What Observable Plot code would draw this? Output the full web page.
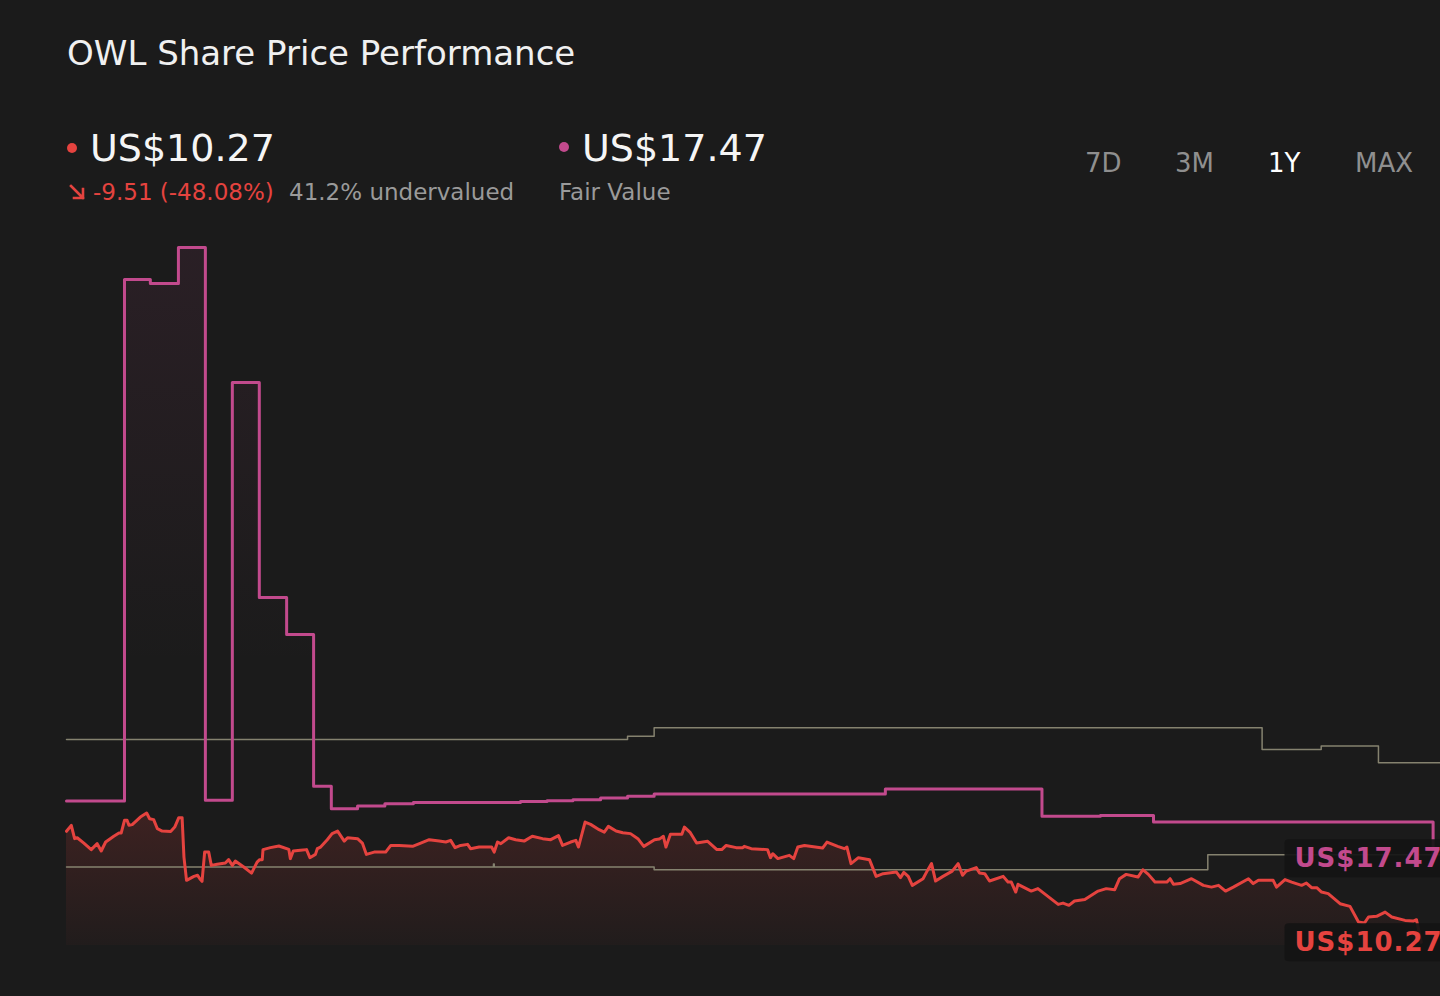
<!DOCTYPE html>
<html>
<head>
<meta charset="utf-8">
<script src="https://cdn.jsdelivr.net/npm/d3@7"></script>
<script src="https://cdn.jsdelivr.net/npm/@observablehq/plot@0.6"></script>
<style>
  html, body { margin: 0; padding: 0; background: #1b1b1b; overflow: hidden; }
  #page { position: relative; width: 1440px; height: 996px; font-family: "DejaVu Sans", sans-serif; }
  #header { position: relative; width: 1440px; height: 230px; }
  .t { position: absolute; line-height: 1; white-space: nowrap; }
  .dot { position: absolute; width: 10px; height: 10px; border-radius: 50%; }
</style>
</head>
<body>
<div id="page">
  <div id="header"></div>
  <div id="chart"></div>
</div>
<script>
// ---------- DATA ----------
const title = "OWL Share Price Performance";
const currentPrice = 10.27;
const fairValueNow = 17.47;
const priceChange = "-9.51 (-48.08%)";
const valuation = "41.2% undervalued";
const fairValueLabel = "Fair Value";
const rangeButtons = ["7D", "3M", "1Y", "MAX"];
const activeButton = "1Y";

// days since start of the 1Y window
const priceDay = [0,1.3,2.2,2.9,4.7,6.7,8.3,9.4,10.6,12.8,14.2,14.8,15.7,16.4,16.9,17.8,20.0,21.7,22.5,23.6,24.6,25.9,28.2,29.3,30.4,31.3,31.8,32.5,34.5,35.5,36.1,36.7,37.4,38.5,39.2,40.8,43.0,43.9,44.9,45.7,48.0,50.1,51.6,52.3,53.0,53.2,55.2,57.5,60.2,60.6,61.4,63.3,65.0,65.9,67.4,67.9,68.8,70.6,71.9,
73.4,75.2,76.1,78.8,80.1,81.2,83.3,86.4,87.8,90.1,93.7,95.9,98.2,100.9,102.7,104.0,105.2,106.7,108.6,109.4,111.7,115.1,115.8,116.7,117.6,119.7,121.6,123.9,126.1,128.9,131.1,133.2,134.3,136.5,137.9,138.6,140.4,141.9,144.2,145.6,
146.7,148.8,150.6,152.7,154.7,156.3,159.2,160.5,161.6,162.3,163.5,166.6,167.3,168.9,170.6,173.6,176.1,177.4,178.6,181.3,183.1,183.5,185.4,189.8,190.6,191.2,192.6,195.7,196.9,198.0,199.8,204.7,205.9,208.8,210.6,211.3,212.4,214.4,217.4,219.2,
221.1,224.7,225.8,226.7,227.9,229.0,231.9,233.1,234.2,235.3,237.3,239.8,241.4,242.6,243.6,246.3,247.2,248.6,249.9,253.6,254.9,255.8,257.0,257.6,261.2,263.0,268.5,269.8,271.4,272.9,275.7,279.3,281.5,283.8,285.1,286.9,290.1,291.4,292.9,
294.7,297.9,298.8,299.7,301.5,304.6,307.8,310.0,311.9,313.8,315.9,320.0,321.3,322.7,326.7,327.6,329.9,331.7,334.4,335.7,337.1,338.5,339.8,341.6,344.8,347.5,349.8,351.4,352.5,354.7,357.0,358.8,362.4,364.6,365.5,366.8];
const priceValue = [19.78,20.29,19.15,19.23,18.77,18.21,18.72,18.09,18.86,19.35,19.63,19.63,20.72,20.72,20.29,20.35,21.00,21.34,20.86,20.78,20.00,19.80,19.77,20.14,20.95,20.95,17.57,15.58,15.92,16.01,15.72,15.49,18.00,18.00,16.86,16.95,17.06,17.35,16.86,17.23,16.72,16.20,17.14,17.35,17.35,18.21,18.38,18.52,18.23,17.44,18.09,18.15,18.21,17.52,17.80,18.29,18.43,19.06,19.58,
19.80,18.94,19.23,19.15,18.77,17.80,18.00,18.00,18.57,18.57,18.49,18.77,19.06,18.94,18.86,19.00,18.38,18.57,18.66,18.29,18.43,18.43,18.00,18.86,18.72,19.23,19.06,18.94,19.35,19.15,19.06,19.41,18.57,18.86,19.00,18.43,20.57,20.37,19.92,19.71,
20.20,19.80,19.66,19.58,19.15,18.49,19.06,19.11,19.35,18.43,19.52,19.52,20.14,19.66,18.77,18.92,18.21,18.21,18.57,18.38,18.38,18.49,18.29,18.21,17.52,17.86,17.44,17.72,17.44,18.43,18.57,18.34,18.86,18.49,18.29,18.43,17.01,17.52,17.35,15.92,
16.15,16.29,15.81,16.26,15.92,15.15,15.72,16.43,17.01,15.52,15.92,16.37,17.01,16.01,16.37,16.67,16.20,16.15,15.52,15.92,15.43,15.43,14.58,15.24,14.66,14.87,13.52,13.63,13.44,13.81,13.93,14.66,14.87,14.78,15.72,16.09,15.86,16.49,16.09,
15.43,15.43,15.72,15.24,15.30,15.72,15.15,15.00,15.15,14.66,15.00,15.72,15.30,15.58,15.58,15.00,15.64,15.43,15.15,15.35,14.95,14.95,14.58,14.44,13.58,13.35,12.01,11.92,12.44,12.50,12.86,12.44,12.15,12.09,12.21,10.27];

const fairDay   = [0,15.7,22.7,30.3,37.6,44.9,52.2,59.6,66.9,71.7,78.8,86.2,93.9,122.9,130.1,137.1,144.6,151.9,159.1,221.7,264.1,279.9,294.3,370.0];
const fairValue = [22.38,67.03,66.69,69.77,22.43,58.22,39.81,36.64,23.63,21.72,21.94,22.14,22.24,22.34,22.40,22.49,22.62,22.77,22.98,23.41,21.06,21.14,20.57,17.47];

const upperDay   = [0,151.9,159.1,323.7,339.7,355.2,372];
const upperValue = [27.65,27.91,28.65,26.79,27.08,25.65,25.65];
const lowerDay   = [0,115.6,115.8,159.1,309.0,372];
const lowerValue = [16.72,16.97,16.72,16.49,17.78,17.78];

const xDomain = [0, 372];
const yDomain = [10.0, 69.77];

// ---------- COLOURS ----------
const RED = "#e5433f", PINK = "#c24a8d", GRAY = "#85826f";

// ---------- HEADER ----------
const header = document.getElementById("header");
function txt(s, x, baseline, fs, color, weight) {
  const d = document.createElement("div");
  d.className = "t";
  d.textContent = s;
  d.style.left = x + "px";
  d.style.top = (baseline - 0.846 * fs) + "px";
  d.style.fontSize = fs + "px";
  d.style.color = color;
  if (weight) d.style.fontWeight = weight;
  header.appendChild(d);
}
function dot(cx, cy, color) {
  const d = document.createElement("div");
  d.className = "dot";
  d.style.left = (cx - 5) + "px";
  d.style.top = (cy - 5) + "px";
  d.style.background = color;
  header.appendChild(d);
}
txt(title, 67, 65, 34, "#f0f0f0");
dot(72, 148, RED);
txt("US$" + currentPrice.toFixed(2), 90, 161, 38, "#f5f5f5");
// down-right arrow icon
const arrow = d3.select(header).append("svg")
  .style("position", "absolute").style("left", "68px").style("top", "182px")
  .attr("width", 20).attr("height", 20);
arrow.append("path").attr("d", "M3,4 L15,16 M15,7 L15,16 L6,16")
  .attr("fill", "none").attr("stroke", RED).attr("stroke-width", 2.6)
  .attr("stroke-linecap", "square");
txt(priceChange, 93, 200, 23, RED);
txt(valuation, 289, 200, 23, "#9a9a9a");
dot(564, 147, PINK);
txt("US$" + fairValueNow.toFixed(2), 582, 161, 38, "#f5f5f5");
txt(fairValueLabel, 559, 200, 23, "#9a9a9a");
const btnX = [1085, 1175, 1268, 1355];
rangeButtons.forEach((b, i) => txt(b, btnX[i], 172, 26, b === activeButton ? "#ffffff" : "#8f8f8f"));

// ---------- CHART ----------
const price = priceDay.map((d, i) => ({day: d, value: priceValue[i]}));
const fair  = fairDay.map((d, i) => ({day: d, value: fairValue[i]}));
const upper = upperDay.map((d, i) => ({day: d, value: upperValue[i]}));
const lower = lowerDay.map((d, i) => ({day: d, value: lowerValue[i]}));

const defs = () => {
  const s = d3.create("svg:defs");
  const g1 = s.append("linearGradient").attr("id", "priceGrad").attr("x1", 0).attr("y1", 0).attr("x2", 0).attr("y2", 1);
  g1.append("stop").attr("offset", 0).attr("stop-color", RED).attr("stop-opacity", 0.17);
  g1.append("stop").attr("offset", 1).attr("stop-color", RED).attr("stop-opacity", 0.03);
  const g2 = s.append("linearGradient").attr("id", "fairGrad").attr("x1", 0).attr("y1", 0).attr("x2", 0).attr("y2", 1);
  g2.append("stop").attr("offset", 0).attr("stop-color", PINK).attr("stop-opacity", 0.09);
  g2.append("stop").attr("offset", 0.6).attr("stop-color", PINK).attr("stop-opacity", 0.0);
  return s.node();
};

const LABEL_DX = -146;
function boxed(index, scales, values, dimensions, context, next) {
  const g = next(index, scales, values, dimensions, context);
  for (const i of index) {
    const r = document.createElementNS("http://www.w3.org/2000/svg", "rect");
    // group is translated by LABEL_DX; box starts 10px left of the text
    r.setAttribute("x", dimensions.width - 10);
    r.setAttribute("y", values.y[i] - 19);
    r.setAttribute("width", 170);
    r.setAttribute("height", 38);
    r.setAttribute("rx", 4);
    r.setAttribute("fill", "#141414");
    r.setAttribute("fill-opacity", 0.92);
    g.insertBefore(r, g.firstChild);
  }
  g.setAttribute("letter-spacing", "1");
  return g;
}

const chart = Plot.plot({
  width: 1440,
  height: 766,
  marginTop: 17,
  marginBottom: 51,
  marginLeft: 66,
  marginRight: 0,
  x: {domain: xDomain, axis: null},
  y: {domain: yDomain, axis: null},
  style: {background: "transparent", overflow: "visible", fontFamily: "DejaVu Sans"},
  marks: [
    defs,
    Plot.areaY(fair, {x: "day", y1: yDomain[0], y2: "value", curve: "step-after", fill: "url(#fairGrad)"}),
    Plot.areaY(price, {x: "day", y1: yDomain[0], y2: "value", fill: "url(#priceGrad)"}),
    Plot.line(upper, {x: "day", y: "value", curve: "step-after", stroke: GRAY, strokeWidth: 1.5}),
    Plot.line(lower, {x: "day", y: "value", curve: "step-after", stroke: GRAY, strokeWidth: 1.5}),
    Plot.line(fair, {x: "day", y: "value", curve: "step-after", stroke: PINK, strokeWidth: 3}),
    Plot.line(price, {x: "day", y: "value", stroke: RED, strokeWidth: 3, strokeLinejoin: "round"}),
    Plot.text([{value: fairValue[fairValue.length - 1]}], {
      y: "value", text: d => "US$" + d.value.toFixed(2), fill: PINK,
      frameAnchor: "right", textAnchor: "start", dx: LABEL_DX,
      fontSize: 26, fontWeight: "bold", render: boxed
    }),
    Plot.text([{value: priceValue[priceValue.length - 1]}], {
      y: "value", text: d => "US$" + d.value.toFixed(2), fill: RED,
      frameAnchor: "right", textAnchor: "start", dx: LABEL_DX,
      fontSize: 26, fontWeight: "bold", render: boxed
    })
  ]
});
document.getElementById("chart").appendChild(chart);
</script>
</body>
</html>
